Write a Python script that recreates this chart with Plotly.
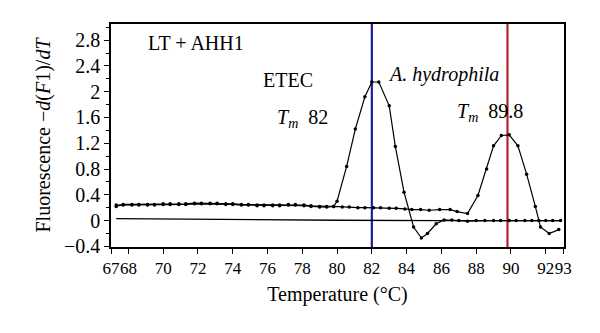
import plotly.graph_objects as go

# Melting-curve data: temperature (°C) and -d(F1)/dT
temp_etec = [67.3, 67.7, 68.2, 68.6, 69.1, 69.5, 70.0, 70.4, 70.9, 71.3, 71.8, 72.2,
             72.7, 73.1, 73.6, 74.0, 74.5, 74.9, 75.4, 75.8, 76.3, 76.7, 77.2, 77.6,
             78.1, 78.5, 79.0, 79.4, 79.8, 80.0, 80.55, 81.05, 81.6, 82.0, 82.4, 83.0,
             83.35, 83.85, 84.4, 84.85, 85.2, 85.7, 86.15, 86.6, 87.0, 87.5, 88.0, 88.5,
             89.0, 89.4, 89.9, 90.3, 90.8, 91.2, 91.6, 92.0, 92.4, 92.85]
fluor_etec = [0.22, 0.25, 0.25, 0.25, 0.25, 0.25, 0.26, 0.26, 0.26, 0.26, 0.27, 0.27,
              0.27, 0.27, 0.26, 0.26, 0.25, 0.25, 0.24, 0.24, 0.24, 0.24, 0.25, 0.25,
              0.24, 0.23, 0.22, 0.22, 0.22, 0.30, 0.84, 1.42, 1.92, 2.15, 2.15, 1.78,
              1.15, 0.44, -0.10, -0.27, -0.20, -0.05, 0.01, 0.01, 0.0, -0.01, 0.0, 0.0,
              0.0, 0.0, 0.0, 0.0, 0.0, 0.0, 0.0, 0.0, 0.0, 0.0]

temp_ahyd = [67.3, 67.7, 68.2, 68.6, 69.1, 69.5, 70.0, 70.4, 70.9, 71.3, 71.8, 72.2,
             72.7, 73.1, 73.6, 74.0, 74.5, 74.9, 75.4, 75.8, 76.3, 76.7, 77.2, 77.6,
             78.1, 78.5, 79.0, 79.4, 79.8, 80.3, 80.7, 81.2, 81.6, 82.1, 82.5, 83.0,
             83.4, 83.9, 84.3, 84.8, 85.3, 85.9, 86.5, 86.9, 87.5, 88.1, 88.6, 89.0,
             89.45, 89.9, 90.4, 90.9, 91.4, 91.7, 92.2, 92.75]
fluor_ahyd = [0.24, 0.24, 0.24, 0.24, 0.24, 0.24, 0.25, 0.25, 0.25, 0.25, 0.26, 0.26,
              0.26, 0.26, 0.25, 0.25, 0.24, 0.24, 0.23, 0.23, 0.23, 0.23, 0.24, 0.24,
              0.23, 0.22, 0.21, 0.21, 0.22, 0.21, 0.21, 0.20, 0.20, 0.20, 0.20, 0.19,
              0.19, 0.18, 0.17, 0.17, 0.16, 0.17, 0.17, 0.14, 0.11, 0.39, 0.80, 1.16,
              1.32, 1.33, 1.16, 0.72, 0.22, -0.10, -0.20, -0.14]

temp_ntc = [67.3, 70.0, 74.0, 80.0, 86.0, 92.8]
fluor_ntc = [0.03, 0.025, 0.01, 0.005, 0.0, 0.0]

tm_etec = 82.0
tm_ahyd = 89.8

x_ticks = [67, 68, 70, 72, 74, 76, 78, 80, 82, 84, 86, 88, 90, 92, 93]
y_ticks = [-0.4, 0, 0.4, 0.8, 1.2, 1.6, 2, 2.4, 2.8]
y_tick_text = ["\u22120.4", "0", "0.4", "0.8", "1.2", "1.6", "2", "2.4", "2.8"]

FONT = "Liberation Serif"
Y_MIN, Y_MAX = -0.41, 3.05

fig = go.Figure()

# Melting temperature markers
fig.add_trace(go.Scatter(x=[tm_etec, tm_etec], y=[Y_MIN, Y_MAX], mode="lines",
                         line=dict(color="#1c1c9c", width=2.2), showlegend=False,
                         hoverinfo="skip"))
fig.add_trace(go.Scatter(x=[tm_ahyd, tm_ahyd], y=[Y_MIN, Y_MAX], mode="lines",
                         line=dict(color="#b0232e", width=2.2), showlegend=False,
                         hoverinfo="skip"))

fig.add_trace(go.Scatter(x=temp_ntc, y=fluor_ntc, mode="lines",
                         line=dict(color="black", width=1.3), showlegend=False))
fig.add_trace(go.Scatter(x=temp_ahyd, y=fluor_ahyd, mode="lines+markers",
                         line=dict(color="black", width=1.2),
                         marker=dict(color="black", size=3.5), showlegend=False))
fig.add_trace(go.Scatter(x=temp_etec, y=fluor_etec, mode="lines+markers",
                         line=dict(color="black", width=1.2),
                         marker=dict(color="black", size=3.5), showlegend=False))

text_font = dict(family=FONT, size=20, color="black")
annots = [
    dict(x=69.0, y=2.75, text="LT + AHH1", xanchor="left"),
    dict(x=77.17, y=2.18, text="ETEC", xanchor="center"),
    dict(x=78.0, y=1.58, text="<i>T<sub>m</sub></i>  82", xanchor="center"),
    dict(x=86.1, y=2.27, text="<i>A. hydrophila</i>", xanchor="center"),
    dict(x=88.8, y=1.67, text="<i>T<sub>m</sub></i>  89.8", xanchor="center"),
]
for a in annots:
    fig.add_annotation(xref="x", yref="y", showarrow=False, yanchor="middle",
                       font=text_font, **a)

fig.update_layout(
    width=600, height=333,
    margin=dict(l=111, r=36, t=24, b=86),
    paper_bgcolor="white", plot_bgcolor="white",
    font=dict(family=FONT, size=20, color="black"),
    xaxis=dict(range=[67, 93.05], tickvals=x_ticks, tickangle=0, ticks="outside",
               ticklen=5, tickwidth=1.2, tickcolor="black", showgrid=False,
               zeroline=False, showline=True, linecolor="black", linewidth=1.5,
               mirror=True, tickfont=dict(family=FONT, size=17),
               title=dict(text="Temperature (°C)", standoff=10,
                          font=dict(family=FONT, size=20))),
    yaxis=dict(range=[Y_MIN, Y_MAX], tickvals=y_ticks, ticktext=y_tick_text,
               ticks="outside", ticklen=5, tickwidth=1.2, tickcolor="black",
               minor=dict(dtick=0.2, tick0=0, ticks="outside", ticklen=3,
                          tickcolor="black", tickwidth=1),
               showgrid=False, zeroline=False, showline=True, linecolor="black",
               linewidth=1.5, mirror=True, tickfont=dict(family=FONT, size=20),
               title=dict(text="Fluorescence \u2212<i>d</i>(<i>F</i>1)/<i>dT</i>",
                          standoff=8, font=dict(family=FONT, size=20))),
)

fig.write_html("out.html")
